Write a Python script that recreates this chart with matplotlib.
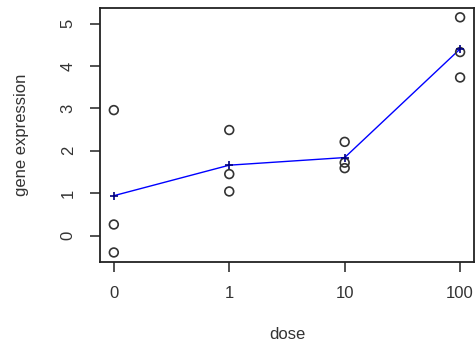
import matplotlib.pyplot as plt
import numpy as np

plt.rcParams['font.family'] = ['Liberation Sans', 'DejaVu Sans']

# dose groups and observed gene expression
doses = ['0', '1', '10', '100']
expr_0 = [2.96, 0.26, -0.40]
expr_1 = [2.49, 1.45, 1.04]
expr_10 = [2.21, 1.72, 1.59]
expr_100 = [5.15, 4.33, 3.73]

groups = [expr_0, expr_1, expr_10, expr_100]
pos = np.arange(1, len(doses) + 1)
means = [np.mean(g) for g in groups]

fig = plt.figure(figsize=(4.77, 3.44), dpi=100)
ax = fig.add_axes([0.2096, 0.239, 0.784, 0.739])

for p, g in zip(pos, groups):
    ax.scatter([p] * len(g), g, s=40, facecolors='none', edgecolors='#333333',
               linewidths=1.2, zorder=3)

ax.plot(pos, means, color='blue', lw=1, zorder=2)
ax.plot(pos, means, '+', color='#000080', ms=6, mew=1.2, zorder=4)

ax.set_xlim(0.88, 4.12)
ax.set_ylim(-0.62, 5.38)
ax.set_xticks(pos)
ax.set_xticklabels(doses)
ax.set_yticks(range(0, 6))
for lab in ax.get_yticklabels():
    lab.set_rotation(90)
    lab.set_va('center')
ax.tick_params(direction='out', length=7.5, width=1.2, labelsize=12, colors='#333333',
               pad=10)
for s in ax.spines.values():
    s.set_linewidth(1.3)
    s.set_color('#222222')

ax.set_xlabel('dose', fontsize=12, color='#333333', va='center')
ax.xaxis.set_label_coords(0.5, -0.285)
ax.set_ylabel('gene expression', fontsize=12, color='#333333', va='center')
ax.yaxis.set_label_coords(-0.21, 0.5)

plt.savefig('out.png', dpi=100)
plt.close()
